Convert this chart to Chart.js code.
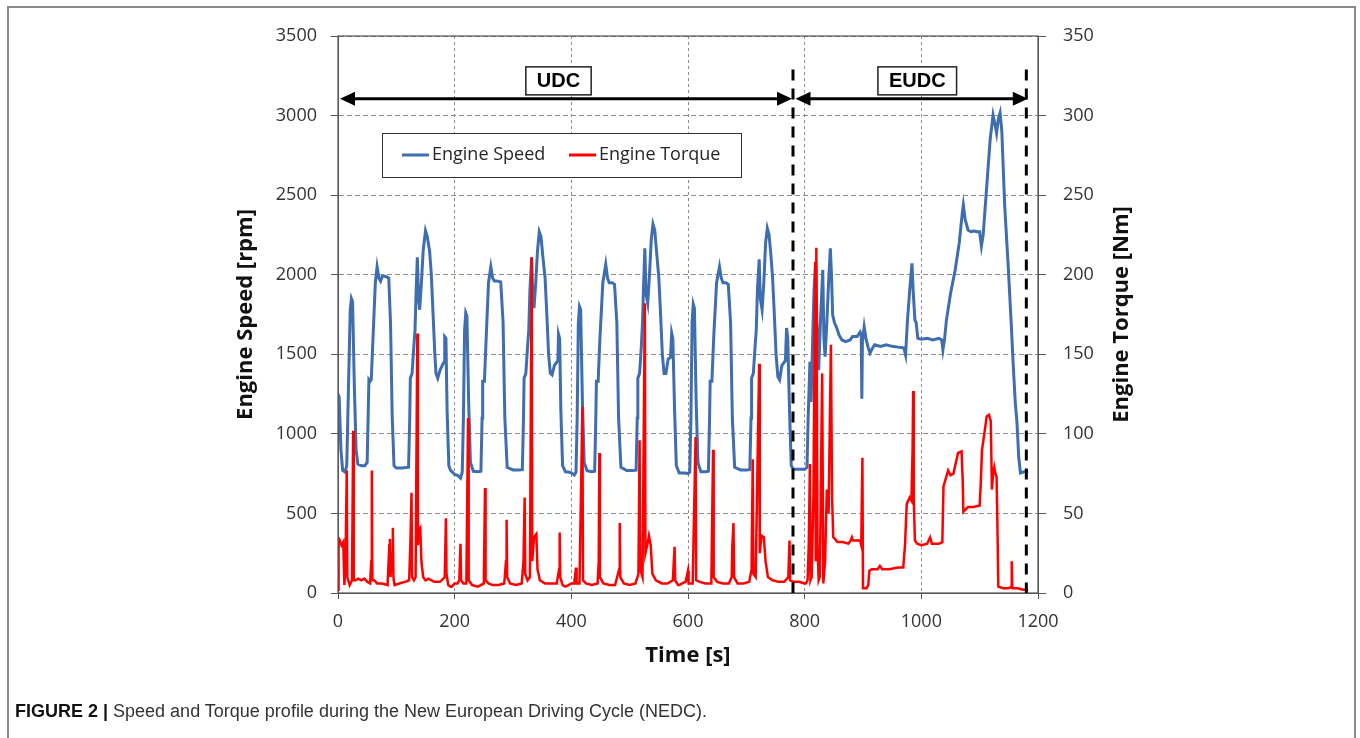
<!DOCTYPE html>
<html>
<head>
<meta charset="utf-8">
<script src="https://cdn.jsdelivr.net/npm/chart.js@4.4.0/dist/chart.umd.min.js"></script>
<style>
body{margin:0;background:#fff;}
#frame{position:absolute;left:7px;top:6px;width:1345px;height:760px;border:2px solid #8a8a8a;border-bottom:none;}
#caption{position:absolute;left:15px;top:701px;font-family:"Liberation Sans",Arial,sans-serif;font-size:18px;color:#333;white-space:nowrap;}
#caption b{color:#111;}
canvas{position:absolute;left:0;top:0;}
</style>
</head>
<body>
<div id="frame"></div>
<canvas id="nedcChart" width="1360" height="738"></canvas>
<div id="caption"><b>FIGURE 2 |</b> Speed and Torque profile during the New European Driving Cycle (NEDC).</div>
<script>
// engine speed [s, rpm]
const engineSpeed = [
    [0,1250],[2,1230],[5,900],[8,770],[12,760],[15,800],[18,1300],[21,1780],[23,1850],[25,1830],[28,1300],[31,900],[34,810],[40,800],[46,800],[50,820],[53,1340],[55,1330],[57,1340],[60,1600],[64,1950],[67,2050],[70,1980],[73,1960],[76,1990],[81,1990],[87,1980],[90,1700],[93,1100],[96,800],[100,785],[110,785],[121,790],[123,1100],[124,1350],[127,1380],[130,1550],[132,1650],[134,1900],[136,2110],[138,1850],[140,1780],[143,1950],[146,2150],[150,2277],[153,2240],[157,2150],[160,2000],[163,1750],[166,1500],[168,1380],[171,1350],[175,1400],[180,1440],[182,1450],[183,1610],[185,1600],[187,1150],[190,800],[193,770],
    [196,760],[200,745],[205,740],[210,722],[213,760],[215,1100],[217,1650],[219,1760],[221,1740],[224,1200],[227,820],[232,765],[240,762],[245,765],[247,1100],[248,1330],[251,1330],[254,1600],[258,1950],[262,2050],[265,1980],[268,1960],[272,1960],[279,1955],[283,1700],[286,1100],[290,790],[300,773],[310,773],[316,775],[318,1100],[319,1350],[322,1380],[325,1550],[327,1650],[329,1900],[332,2110],[334,1850],[336,1790],[339,1950],[342,2150],[345,2270],[348,2240],[351,2120],[355,1980],[358,1750],[361,1500],[364,1380],[367,1370],[371,1430],[375,1450],[377,1460],[378,1627],[380,1600],[382,1150],[385,800],[390,762],
    [395,760],[400,755],[405,741],[408,760],[410,1100],[412,1700],[414,1800],[416,1780],[419,1200],[422,820],[427,769],[435,762],[440,765],[442,1100],[443,1330],[446,1330],[449,1600],[454,1950],[459,2065],[462,1980],[465,1950],[470,1950],[474,1940],[478,1700],[481,1100],[485,790],[495,769],[505,769],[511,772],[513,1100],[514,1350],[517,1380],[520,1550],[522,1700],[524,1950],[526,2166],[528,1880],[531,1820],[534,2000],[537,2220],[540,2318],[543,2280],[546,2150],[550,1980],[553,1750],[556,1500],[559,1380],[562,1380],[566,1470],[570,1480],[572,1634],[574,1600],[577,1150],[580,800],[585,754],
    [590,754],[595,754],[600,750],[603,760],[605,1100],[607,1700],[609,1816],[611,1790],[614,1200],[617,820],[622,762],[630,762],[635,765],[637,1100],[638,1330],[641,1330],[644,1600],[649,1950],[654,2050],[657,1980],[660,1950],[665,1950],[669,1940],[673,1700],[676,1100],[680,790],[690,773],[700,773],[706,775],[708,1100],[709,1350],[712,1380],[715,1550],[717,1650],[719,1900],[722,2097],[724,1850],[727,1780],[730,1950],[733,2200],[736,2292],[739,2250],[742,2130],[745,1980],[748,1750],[751,1500],[754,1360],[757,1340],[761,1430],[765,1450],[767,1460],[769,1665],[771,1600],[774,1150],[777,800],[781,777],
    [790,777],[800,777],[804,790],[806,1100],[809,1453],[811,1200],[813,1500],[816,1900],[819,2082],[821,1700],[824,1400],[827,1700],[831,2030],[833,1600],[835,1485],[838,1700],[841,1950],[844,2166],[846,2000],[848,1747],[851,1700],[855,1665],[859,1620],[864,1590],[870,1580],[878,1590],[882,1611],[890,1611],[895,1640],[897,1620],[898,1220],[899,1580],[902,1673],[905,1600],[909,1540],[912,1508],[915,1530],[920,1560],[930,1550],[940,1560],[950,1550],[960,1545],[970,1540],[973,1495],[976,1700],[980,1900],[984,2072],[986,1900],[989,1715],[991,1700],[994,1600],[1000,1595],[1010,1600],[1020,1590],[1030,1600],[1035,1590],[1037,1527],[1040,1600],[1043,1715],[1050,1880],[1058,2030],[1065,2200],[1070,2380],[1072,2438],[1075,2350],[1080,2281],[1085,2270],[1090,2275],[1096,2270],[1100,2270],[1103,2180],[1106,2250],[1110,2450],[1114,2650],[1118,2850],[1123,3003],[1126,2950],[1129,2889],[1132,2980],[1135,3018],[1138,2900],[1143,2427],[1149,2050],[1154,1700],[1158,1400],[1161,1200],[1164,1068],[1167,850],[1170,754],[1175,760],[1183,767]
];

// engine torque [s, Nm]
const engineTorque = [
    [0,2],[1,30],[3,33],[6,30],[9,32],[11,5],[13,20],[15,77],[16,10],[20,5],[24,8],[26,102],[27,8],[30,8],[35,9],[40,8],[45,9],[50,7],[55,6],[57,20],[58,77],[59,8],[62,8],[67,6],[75,6],[85,5],[88,30],[89,34],[90,10],[93,25],[94,41],[95,10],[97,5],[105,6],[115,7],[122,8],[124,30],[126,63],[127,10],[130,8],[133,10],[136,163],[137,30],[139,40],[141,41],[143,20],[146,10],[150,8],[155,9],[165,7],[175,7],[183,10],[185,47],[186,12],[189,5],[193,4],
    [195,4],[200,6],[205,6],[208,8],[210,31],[211,8],[215,6],[220,6],[223,110],[224,8],[230,5],[240,4],[250,6],[252,66],[253,8],[258,6],[265,5],[275,5],[285,6],[288,20],[289,46],[290,10],[295,6],[305,5],[315,6],[318,20],[320,60],[321,12],[325,8],[329,10],[332,211],[333,20],[336,35],[340,37],[342,15],[346,8],[355,6],[365,6],[375,6],[379,15],[380,38],[381,10],[385,5],[390,4],
    [395,5],[400,6],[405,6],[408,16],[409,6],[414,6],[419,117],[420,8],[425,6],[435,5],[445,6],[447,20],[448,88],[449,10],[455,6],[465,5],[475,5],[482,15],[483,44],[484,10],[490,6],[500,5],[510,6],[515,12],[517,96],[518,15],[522,10],[526,182],[527,25],[530,30],[533,36],[536,30],[539,12],[545,8],[555,6],[565,6],[574,8],[577,29],[578,8],[583,5],[585,5],
    [590,6],[596,7],[600,14],[601,6],[608,6],[613,98],[614,8],[620,7],[630,6],[640,6],[643,90],[644,10],[650,7],[660,6],[670,6],[675,10],[676,30],[678,44],[679,10],[685,6],[695,6],[705,7],[709,15],[711,84],[712,12],[716,10],[722,144],[723,25],[726,36],[730,35],[733,20],[737,10],[745,8],[755,7],[765,7],[772,10],[774,33],[775,8],[780,7],[790,7],[800,6],
    [802,6],[805,8],[807,30],[809,81],[810,8],[812,10],[815,60],[818,208],[819,20],[820,217],[822,30],[824,8],[826,10],[830,138],[832,6],[835,20],[838,65],[841,50],[845,156],[847,60],[849,35],[852,34],[856,32],[865,32],[875,31],[879,33],[881,35],[883,33],[890,33],[895,33],[897,30],[899,85],[900,3],[906,3],[909,5],[911,14],[915,15],[925,15],[929,17],[933,15],[945,15],[960,16],[969,16],[972,30],[975,56],[980,60],[983,58],[985,90],[986,127],[987,60],[989,33],[993,31],[1000,30],[1010,31],[1015,35],[1018,31],[1030,31],[1036,32],[1038,67],[1046,77],[1050,74],[1055,75],[1058,80],[1063,88],[1069,89],[1071,70],[1072,51],[1080,54],[1090,54],[1100,55],[1102,70],[1104,90],[1108,100],[1112,111],[1116,112],[1119,108],[1121,65],[1123,75],[1125,79],[1127,75],[1129,73],[1131,30],[1132,4],[1140,3],[1150,3],[1154,4],[1155,20],[1156,3],[1165,3],[1175,2],[1183,2]
];

// driving cycle phases
const phaseNames = ['UDC', 'EUDC'];
const phaseBounds = [0, 780, 1180];
const phaseLabelAt = [378, 993];
const arrowLevel = 3105;   // rpm
const phaseLineTop = 3290; // rpm

const tickFont = { family: 'Open Sans', size: 18 };
const titleFont = { family: 'Open Sans', size: 22, weight: 'bold' };

function toXY(points){
    return points.map(p => ({ x: p[0], y: p[1] }));
}

// plain numbers, no thousands separator
function plainTick(value){
    return String(value);
}

function arrowHead(ctx, tipX, y, dir){
    ctx.beginPath();
    ctx.moveTo(tipX, y);
    ctx.lineTo(tipX + dir * 15, y - 7);
    ctx.lineTo(tipX + dir * 15, y + 7);
    ctx.closePath();
    ctx.fill();
}

const decorPlugin = {
    id: 'decor',
    afterDatasetsDraw(chart){
        const ctx = chart.ctx;
        const a = chart.chartArea;
        const x = chart.scales.x;
        const y = chart.scales.y;

        ctx.save();

        // plot frame
        ctx.strokeStyle = '#555';
        ctx.lineWidth = 1.2;
        ctx.strokeRect(a.left, a.top, a.right - a.left, a.bottom - a.top);

        // phase limits
        const ay = y.getPixelForValue(arrowLevel);
        ctx.strokeStyle = '#000';
        ctx.lineWidth = 3;
        ctx.setLineDash([11, 8]);
        [phaseBounds[1], phaseBounds[2]].forEach(t => {
            const px = x.getPixelForValue(t);
            ctx.beginPath();
            ctx.moveTo(px, y.getPixelForValue(phaseLineTop));
            ctx.lineTo(px, a.bottom);
            ctx.stroke();
        });
        ctx.setLineDash([]);

        // arrows and boxed names
        ctx.fillStyle = '#000';
        for(let i = 0; i<phaseNames.length; i++){
            const x0 = x.getPixelForValue(phaseBounds[i]) + 2;
            const x1 = x.getPixelForValue(phaseBounds[i + 1]) - (i === 0 ? 0 : -1.5);
            const l = i === 0 ? x0 : x0 + 0.5;
            const r = i === 0 ? x1 - 1 : x1;
            ctx.lineWidth = 3;
            ctx.strokeStyle = '#000';
            ctx.beginPath();
            ctx.moveTo(l + 10, ay);
            ctx.lineTo(r - 10, ay);
            ctx.stroke();
            ctx.fillStyle = '#000';
            arrowHead(ctx, l, ay, 1);
            arrowHead(ctx, r, ay, -1);

            ctx.font = 'bold 20px "Liberation Sans", Arial, sans-serif';
            const w = ctx.measureText(phaseNames[i]).width + 22;
            const cx = x.getPixelForValue(phaseLabelAt[i]);
            ctx.fillStyle = '#fff';
            ctx.fillRect(cx - w / 2, ay - 32, w, 28);
            ctx.strokeStyle = '#222';
            ctx.lineWidth = 1.5;
            ctx.strokeRect(cx - w / 2, ay - 32, w, 28);
            ctx.fillStyle = '#000';
            ctx.textAlign = 'center';
            ctx.textBaseline = 'middle';
            ctx.fillText(phaseNames[i], cx, ay - 17);
        }

        // legend inside the plot
        const lx = a.left + 44, ly = a.top + 97;
        ctx.fillStyle = '#fff';
        ctx.fillRect(lx, ly, 359, 44);
        ctx.strokeStyle = '#333';
        ctx.lineWidth = 1;
        ctx.strokeRect(lx + 0.5, ly + 0.5, 359, 44);
        const sampleX = [lx + 20, lx + 187];
        ctx.font = '18px "Open Sans"';
        ctx.textAlign = 'left';
        ctx.textBaseline = 'middle';
        chart.data.datasets.forEach((ds, i) => {
            ctx.strokeStyle = ds.borderColor;
            ctx.lineWidth = 3;
            ctx.beginPath();
            ctx.moveTo(sampleX[i], ly + 22);
            ctx.lineTo(sampleX[i] + 27, ly + 22);
            ctx.stroke();
            ctx.fillStyle = '#262626';
            ctx.fillText(ds.label, sampleX[i] + 30, ly + 22);
        });

        // right axis title, reads bottom to top like the left one
        ctx.translate(1122, (a.top + a.bottom) / 2);
        ctx.rotate(-Math.PI / 2);
        ctx.font = 'bold 22px "Open Sans"';
        ctx.textAlign = 'center';
        ctx.fillStyle = '#111';
        ctx.fillText('Engine Torque [Nm]', 0, 0);

        ctx.restore();
    }
};

new Chart(document.getElementById('nedcChart'), {
    type: 'line',
    data: {
        datasets: [{
            label: 'Engine Speed',
            data: toXY(engineSpeed),
            yAxisID: 'y',
            borderColor: '#3e6db0',
            borderWidth: 3,
            pointRadius: 0,
            order: 1
        }, {
            label: 'Engine Torque',
            data: toXY(engineTorque),
            yAxisID: 'y1',
            borderColor: '#ff0000',
            borderWidth: 2.5,
            pointRadius: 0,
            order: 0
        }]
    },
    options: {
        responsive: false,
        animation: false,
        layout: { padding: { left: 229, right: 20, top: 36, bottom: 65 } },
        plugins: { legend: { display: false }, tooltip: { enabled: false } },
        scales: {
            x: {
                type: 'linear',
                min: 0,
                max: 1200,
                ticks: { stepSize: 200, font: tickFont, color: '#333', padding: 12, maxRotation: 0, callback: plainTick },
                grid: { color: '#8c8c8c', tickColor: '#555', tickLength: 6 },
                border: { color: '#555', dash: [3, 3] },
                title: { display: true, text: 'Time [s]', font: titleFont, color: '#111', padding: { top: 4, bottom: 4 } },
                afterFit: s => { s.height = 80; }
            },
            y: {
                position: 'left',
                min: 0,
                max: 3500,
                ticks: { stepSize: 500, font: tickFont, color: '#333', padding: 14, callback: plainTick },
                grid: { color: '#8c8c8c', tickColor: '#555', tickLength: 7 },
                border: { color: '#555', dash: [5, 3] },
                title: { display: true, text: 'Engine Speed [rpm]', font: titleFont, color: '#111', padding: { top: 4, bottom: 4 } },
                afterFit: s => { s.width = 109; }
            },
            y1: {
                position: 'right',
                min: 0,
                max: 350,
                ticks: { stepSize: 50, font: tickFont, color: '#333', padding: 17, callback: plainTick },
                grid: { drawOnChartArea: false, tickColor: '#555', tickLength: 8 },
                border: { color: '#555' },
                afterFit: s => { s.width = 302; }
            }
        }
    },
    plugins: [decorPlugin]
});
</script>
</body>
</html>
